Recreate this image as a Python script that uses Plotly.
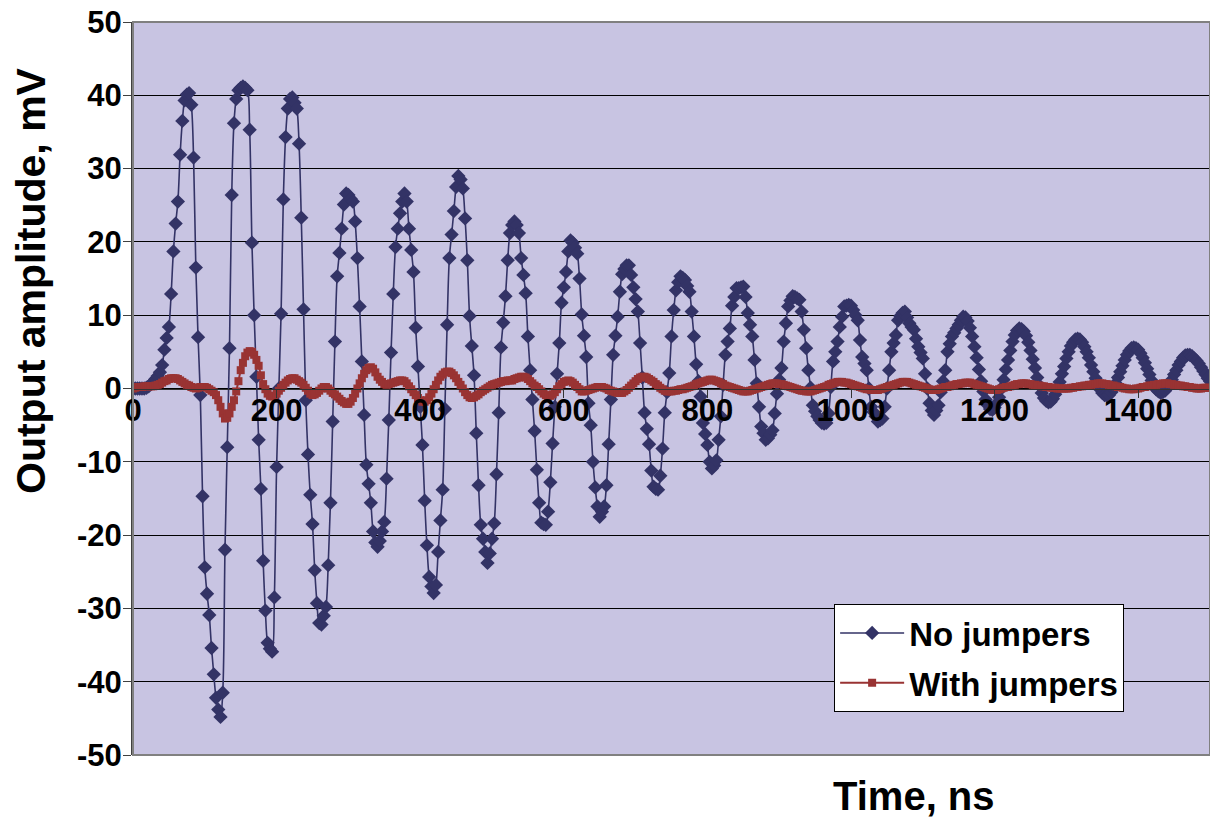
import plotly.graph_objects as go

# sampling grid of the scope record (ns)
SAMPLE_STEP_NS = 3.125

no_jumpers = [
    0.0, 0.0, 0.0, 0.0, 0.0, 0.0, 0.1, 0.3, 0.6, 0.9,
    1.3, 1.7, 2.2, 3.2, 5.3, 6.9, 8.4, 12.9, 18.7, 22.5,
    25.5, 31.9, 36.5, 39.3, 40.1, 40.3, 38.7, 31.5, 16.5, 7.0,
    -0.9, -14.7, -24.4, -28.0, -30.9, -35.4, -39.0, -42.2, -43.8, -44.8,
    -41.5, -22.0, -8.0, 5.5, 26.4, 36.2, 39.5, 40.7, 41.0, 41.2,
    41.0, 40.7, 35.3, 19.9, 10.0, 1.6, -7.0, -13.7, -23.5, -30.3,
    -34.7, -35.5, -35.9, -28.5, -10.7, 0.0, 10.2, 25.8, 34.3, 38.2,
    39.5, 39.7, 39.0, 38.2, 33.4, 23.3, 10.8, -1.6, -9.0, -14.5,
    -18.5, -24.8, -29.3, -32.0, -32.2, -31.0, -29.8, -24.1, -15.6, -4.5,
    6.4, 15.3, 18.5, 21.8, 25.1, 26.6, 26.4, 25.9, 25.5, 22.8,
    17.8, 11.2, 3.7, -3.6, -10.4, -13.0, -15.6, -19.5, -21.0, -21.6,
    -20.8, -19.5, -18.2, -12.3, -4.3, 4.9, 12.9, 19.3, 21.8, 23.9,
    25.5, 26.6, 25.5, 21.8, 18.9, 15.9, 8.3, 3.0, -2.5, -7.7,
    -15.3, -21.4, -25.7, -27.0, -27.9, -26.8, -22.3, -18.0, -13.8, -2.8,
    8.7, 17.8, 21.0, 24.2, 27.5, 29.0, 28.5, 27.3, 23.2, 17.5,
    9.9, 5.8, 1.8, -6.1, -13.2, -18.6, -20.5, -22.3, -23.8, -22.5,
    -20.5, -18.4, -11.7, -3.3, 5.6, 9.0, 12.6, 17.5, 21.2, 22.3,
    22.8, 22.3, 21.2, 17.8, 15.5, 13.0, 7.1, 2.5, -1.5, -5.8,
    -11.1, -15.6, -18.3, -18.5, -18.6, -16.8, -12.8, -7.5, -2.5, 2.0,
    6.2, 11.7, 13.8, 15.9, 18.7, 20.2, 19.9, 19.2, 18.4, 15.0,
    10.1, 7.2, 4.3, -2.0, -5.0, -10.0, -13.5, -16.1, -17.5, -16.8,
    -16.1, -13.2, -7.6, -1.5, 4.6, 7.2, 9.8, 13.2, 15.6, 16.3,
    16.8, 16.8, 15.5, 13.8, 12.2, 10.5, 6.2, 1.5, -3.3, -5.5,
    -7.6, -11.2, -13.4, -13.7, -13.8, -11.9, -8.2, -3.3, -0.5, 2.1,
    7.1, 10.7, 13.4, 14.5, 15.3, 15.1, 14.8, 14.0, 13.2, 10.5,
    7.1, 3.3, 1.0, -1.1, -4.7, -6.2, -7.7, -10.0, -10.9, -10.5,
    -9.8, -7.0, -3.8, 0.5, 4.6, 6.4, 8.2, 11.3, 12.5, 13.7,
    13.7, 13.8, 13.9, 12.5, 10.3, 8.7, 7.1, 3.9, 0.7, -2.5,
    -5.2, -6.1, -7.0, -6.8, -6.3, -5.7, -3.4, -0.7, 1.2, 2.8,
    6.4, 8.9, 11.2, 12.0, 12.6, 12.5, 12.3, 12.1, 10.5, 8.0,
    5.5, 2.5, 0.1, -2.3, -3.1, -3.8, -4.3, -4.7, -4.8, -4.7,
    -3.4, 0.2, 3.7, 5.0, 6.4, 8.4, 9.8, 11.2, 11.3, 11.4,
    11.3, 10.7, 10.0, 9.3, 6.6, 4.3, 3.4, 2.5, 0.0, -2.5,
    -3.2, -3.8, -4.5, -4.3, -4.1, -2.5, 0.0, 2.5, 5.0, 6.2,
    7.3, 9.3, 9.9, 10.3, 10.5, 9.7, 8.9, 8.4, 8.0, 6.8,
    5.7, 4.9, 4.1, 2.0, 0.0, -2.0, -3.0, -3.6, -3.0, -2.3,
    -0.5, 1.0, 2.5, 5.0, 6.1, 7.1, 7.6, 8.2, 8.7, 9.3,
    9.8, 9.7, 9.2, 8.3, 7.1, 5.7, 4.2, 2.6, 1.0, -0.4,
    -1.5, -2.3, -2.8, -2.9, -2.6, -2.0, -1.2, 0.0, 1.2, 2.6,
    3.9, 5.2, 6.4, 7.3, 7.9, 8.2, 8.1, 7.8, 7.2, 6.3,
    5.2, 4.0, 2.8, 1.5, 0.4, -0.6, -1.3, -1.7, -1.9, -1.8,
    -1.4, -0.8, 0.0, 0.9, 2.0, 3.0, 4.1, 5.0, 5.8, 6.3,
    6.7, 6.8, 6.7, 6.3, 5.7, 5.0, 4.2, 3.2, 2.3, 1.4,
    0.6, -0.1, -0.6, -0.9, -1.0, -0.9, -0.5, 0.0, 0.7, 1.5,
    2.3, 3.1, 3.9, 4.6, 5.1, 5.5, 5.6, 5.5, 5.3, 4.8,
    4.2, 3.5, 2.7, 1.9, 1.1, 0.4, -0.1, -0.4, -0.6, -0.5,
    -0.3, 0.1, 0.6, 1.2, 1.9, 2.5, 3.2, 3.7, 4.2, 4.5,
    4.6, 4.6, 4.4, 4.1, 3.8, 3.4, 2.9, 2.4, 1.9, 1.4,
    1.0,
]

with_jumpers = [
    0.0, 0.1, 0.2, 0.2, 0.2, 0.3, 0.3, 0.3, 0.3, 0.3, 0.4,
    0.5, 0.6, 0.8, 1.0, 1.1, 1.3, 1.4, 1.4,
    1.4, 1.3, 1.1, 0.9, 0.7,
    0.5, 0.4, 0.2, 0.1, 0.0,
    0.1, 0.2, 0.2,
    0.2, 0.1, -0.1, -0.3, -0.5,
    -0.9, -1.6, -2.5, -3.4, -4.1,
    -4.0, -3.4, -2.5,
    -1.6, -0.4, 1.0, 2.5,
    3.5, 4.4, 4.9, 5.1,
    5.0, 4.6, 3.9, 3.1,
    1.8, 0.6, -0.1, -0.7, -1.0, -1.1,
    -1.0, -0.7, -0.3, 0.1, 0.5,
    0.8, 1.1, 1.3, 1.4, 1.4,
    1.2, 1.0, 0.8, 0.5,
    0.1, -0.3, -0.7, -0.9,
    -0.8, -0.6, -0.3, 0.0, 0.2,
    0.2, 0.0, -0.3, -0.6, -0.8,
    -1.1, -1.4, -1.7, -1.9, -2.1, -2.1,
    -1.8, -1.3, -0.7, 0.0,
    0.7, 1.4, 2.0, 2.5, 2.8, 2.9,
    2.7, 2.2, 1.6,
    1.2, 0.9, 0.6, 0.5,
    0.6, 0.7, 0.8, 0.9, 1.0, 1.1, 1.1,
    1.0, 0.7, 0.3, -0.1, -0.5,
    -0.9, -1.3, -1.6, -1.8, -1.8,
    -1.6, -1.2, -0.7, -0.1, 0.5,
    1.1, 1.6, 1.9, 2.2, 2.3, 2.3,
    2.1, 1.8, 1.4, 0.9, 0.5,
    0.0, -0.5, -0.9, -1.2, -1.3,
    -1.2, -1.0, -0.8, -0.5, -0.3, -0.1, 0.1, 0.3, 0.5,
    0.6, 0.7, 0.8, 0.9, 1.0, 1.0, 1.1, 1.1, 1.1,
    1.3, 1.4, 1.5, 1.6, 1.6,
    1.5, 1.3, 1.0, 0.7, 0.4, 0.2,
    -0.1, -0.4, -0.7, -0.9, -1.1,
    -1.0, -0.8, -0.5, -0.1, 0.3, 0.6, 0.9, 1.0,
    1.1, 1.0, 0.8, 0.5, 0.2, -0.1, -0.4,
    -0.4, -0.3, -0.2, -0.1, 0.0, 0.1, 0.2, 0.2,
    0.2, 0.1, 0.0, -0.2, -0.3, -0.4, -0.5, -0.6, -0.6,
    -0.6, -0.4, -0.2, 0.1, 0.4, 0.7, 1.0, 1.3, 1.5, 1.6,
    1.6, 1.5, 1.3, 1.1, 0.9, 0.6, 0.4, 0.1, -0.1, -0.3, -0.4, -0.4,
    -0.4, -0.3, -0.3, -0.2, -0.1, -0.1, 0.0,
    0.1, 0.2, 0.3, 0.4, 0.6, 0.7, 0.8, 0.9, 1.0, 1.1, 1.2, 1.2,
    1.1, 1.0, 0.9, 0.7, 0.6, 0.4, 0.3,
    0.2, 0.1, 0.0, -0.1, -0.2, -0.3, -0.4, -0.4,
    -0.4, -0.3, -0.2, -0.1, 0.0, 0.1, 0.2, 0.3, 0.4, 0.5, 0.6, 0.7,
    0.7, 0.7, 0.6, 0.6, 0.5, 0.4, 0.3, 0.2, 0.1, 0.0, -0.1, -0.2, -0.3, -0.3, -0.4, -0.4,
    -0.4, -0.3, -0.2, -0.1, 0.0, 0.1, 0.2, 0.3, 0.5, 0.6, 0.7, 0.8, 0.9,
    0.9, 0.9, 0.8, 0.8, 0.7, 0.6, 0.5, 0.4, 0.3, 0.2, 0.1, 0.0, -0.1, -0.1, -0.2, -0.2, -0.2,
    -0.2, -0.1, 0.0, 0.1, 0.2, 0.3, 0.4, 0.5, 0.6, 0.7, 0.8, 0.9, 0.9,
    0.9, 0.8, 0.7, 0.6, 0.5, 0.4, 0.3, 0.2, 0.1, 0.0, -0.1, -0.2, -0.2,
    -0.2, -0.1, 0.0, 0.1, 0.2, 0.2, 0.3, 0.4, 0.5, 0.6, 0.6, 0.7, 0.7, 0.8, 0.8,
    0.8, 0.7, 0.6, 0.5, 0.4, 0.3, 0.2, 0.1, 0.0, -0.1, -0.2, -0.2,
    -0.2, -0.1, 0.0, 0.1, 0.2, 0.2, 0.3, 0.4, 0.5, 0.6, 0.6, 0.7, 0.7,
    0.7, 0.6, 0.6, 0.5, 0.5, 0.4, 0.4, 0.3, 0.3, 0.2, 0.2, 0.1, 0.1, 0.1, 0.0, 0.0, 0.0, 0.0, 0.0,
    0.0, 0.1, 0.1, 0.2, 0.2, 0.3, 0.3, 0.4, 0.4, 0.5, 0.5, 0.6, 0.6, 0.7, 0.7,
    0.7, 0.6, 0.6, 0.5, 0.4, 0.4, 0.3, 0.2, 0.2, 0.1, 0.0, 0.0, -0.1, -0.1,
    -0.1, 0.0, 0.0, 0.1, 0.2, 0.2, 0.3, 0.4, 0.4, 0.5, 0.5, 0.6, 0.6, 0.7, 0.7,
    0.7, 0.6, 0.6, 0.5, 0.5, 0.4, 0.4, 0.3, 0.3, 0.2, 0.2, 0.1, 0.1, 0.0, 0.0,
    0.0, 0.1, 0.1, 0.1, 0.1,
]

x_tick_values = [0, 200, 400, 600, 800, 1000, 1200, 1400]
x_tick_labels = ["0", "200", "400", "600", "800", "1000", "1200", "1400"]
y_tick_values = [-50, -40, -30, -20, -10, 0, 10, 20, 30, 40, 50]
y_tick_labels = ["-50", "-40", "-30", "-20", "-10", "0", "10", "20", "30", "40", "50"]

time_blue = [i * SAMPLE_STEP_NS for i in range(len(no_jumpers))]
time_red = [i * SAMPLE_STEP_NS for i in range(len(with_jumpers))]

FONT = "Liberation Sans, Arial, sans-serif"
BLUE = "#333366"
RED = "#993333"

fig = go.Figure()
fig.add_trace(go.Scatter(
    x=time_blue, y=no_jumpers, mode="lines+markers", name="No jumpers",
    legendgroup="a",
    line=dict(color=BLUE, width=1.6, shape="spline", smoothing=1.0),
    marker=dict(symbol="diamond", size=11, color=BLUE),
))
fig.add_trace(go.Scatter(
    x=time_red, y=with_jumpers, mode="lines+markers", name="With jumpers",
    legendgroup="b",
    line=dict(color=RED, width=2, shape="spline", smoothing=1.0),
    marker=dict(symbol="square", size=8, color=RED),
))

tickfont = dict(family=FONT, size=31, color="black", weight="bold")

fig.update_layout(
    width=1210, height=819,
    margin=dict(l=133, r=0, t=22, b=64, pad=0),
    paper_bgcolor="white",
    plot_bgcolor="#C8C4E2",
    showlegend=True,
    legend=dict(
        x=0.651, y=0.206, xanchor="left", yanchor="top",
        bgcolor="white", bordercolor="black", borderwidth=1,
        font=dict(family=FONT, size=33, color="black", weight="bold"),
        tracegroupgap=4, itemwidth=64,
    ),
    xaxis=dict(
        range=[0, 1500], tickvals=x_tick_values, ticktext=x_tick_labels,
        anchor="free", position=0.5,
        showline=True, linecolor="#333333", linewidth=1,
        ticks="outside", ticklen=8, tickcolor="#333333",
        ticklabelstandoff=-14,
        showgrid=False, zeroline=False, tickfont=tickfont,
    ),
    yaxis=dict(
        range=[-50, 50], tickvals=y_tick_values, ticktext=y_tick_labels,
        showgrid=True, gridcolor="black", gridwidth=1, zeroline=False,
        showline=True, linecolor="#404040", linewidth=2,
        ticks="outside", ticklen=8, tickcolor="#404040",
        ticklabelstandoff=-5,
        tickfont=tickfont,
    ),
    shapes=[dict(type="rect", xref="paper", yref="paper", x0=0, x1=1, y0=0, y1=1,
                 line=dict(color="#808080", width=2), layer="above")],
    annotations=[
        dict(text="Output amplitude, mV", xref="paper", yref="paper",
             x=-0.0947, y=0.6467, textangle=-90, showarrow=False,
             xanchor="center", yanchor="middle",
             font=dict(family=FONT, size=41, color="black", weight="bold")),
        dict(text="Time, ns", xref="paper", yref="paper",
             x=0.725, y=-0.0559, showarrow=False,
             xanchor="center", yanchor="middle",
             font=dict(family=FONT, size=40, color="black", weight="bold")),
    ],
)

fig.write_html(
    "out.html",
    config={"displayModeBar": False},
    post_script="document.body.style.margin='0px';document.body.style.padding='0px';"
                "document.documentElement.style.overflow='hidden';",
)
